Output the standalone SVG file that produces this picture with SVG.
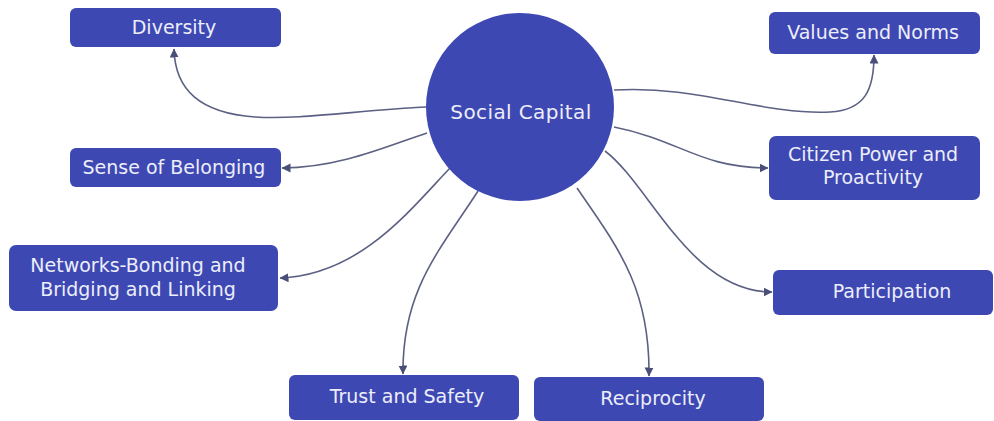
<svg xmlns="http://www.w3.org/2000/svg" width="994" height="421" viewBox="0 0 994 421">
  <defs>
    <style>
      .box { fill: #3e48b3; }
      .hub { fill: #3e48b3; }
      .lbl { font-family: "DejaVu Sans", "Liberation Sans", sans-serif; font-size: 19px; fill: #eceefa; text-anchor: middle; }
      .hub-lbl { font-size: 20px; letter-spacing: 0.4px; }
      .link { fill: none; stroke: #5c6183; stroke-width: 1.6; marker-end: url(#arrow); }
    </style>
    <marker id="arrow" markerUnits="userSpaceOnUse" markerWidth="10" markerHeight="10" refX="8.5" refY="4.5" orient="auto">
      <path d="M0,0 L9,4.5 L0,9 z" fill="#4a4f7a"/>
    </marker>
  </defs>
  <rect width="994" height="421" fill="#ffffff"/>

  <g id="connectors">
    <path class="link" d="M427,107 C360,110 300,120 255,117 C200,113 175,90 174,49"/>
    <path class="link" d="M427,133 C390,145 340,168 282,168"/>
    <path class="link" d="M450,168 C410,210 360,275 280,278"/>
    <path class="link" d="M478,191 C440,250 402,290 403,374"/>
    <path class="link" d="M577,188 C620,250 650,290 649,376"/>
    <path class="link" d="M605,151 C650,185 690,292 772,292"/>
    <path class="link" d="M614,127 C680,140 700,168 768,168"/>
    <path class="link" d="M614,90 C700,85 760,115 830,112 C865,110 874,90 874,55"/>
  </g>

  <g id="social-capital">
    <circle class="hub" cx="520" cy="107" r="94"/>
    <text class="lbl hub-lbl" x="521" y="119">Social Capital</text>
  </g>

  <g id="diversity">
    <rect class="box" x="70" y="8" width="211" height="39" rx="6"/>
    <text class="lbl" x="174" y="34">Diversity</text>
  </g>

  <g id="sense-of-belonging">
    <rect class="box" x="70" y="148" width="211" height="39" rx="6"/>
    <text class="lbl" x="174" y="174">Sense of Belonging</text>
  </g>

  <g id="networks">
    <rect class="box" x="9" y="245" width="269" height="66" rx="7"/>
    <text class="lbl" x="138" y="272">Networks-Bonding and</text>
    <text class="lbl" x="138" y="296">Bridging and Linking</text>
  </g>

  <g id="trust-and-safety">
    <rect class="box" x="289" y="375" width="230" height="45" rx="6"/>
    <text class="lbl" x="407" y="403">Trust and Safety</text>
  </g>

  <g id="reciprocity">
    <rect class="box" x="534" y="377" width="230" height="44" rx="6"/>
    <text class="lbl" x="653" y="405">Reciprocity</text>
  </g>

  <g id="participation">
    <rect class="box" x="773" y="270" width="220" height="45" rx="6"/>
    <text class="lbl" x="892" y="298">Participation</text>
  </g>

  <g id="citizen-power">
    <rect class="box" x="769" y="136" width="211" height="64" rx="7"/>
    <text class="lbl" x="873" y="161">Citizen Power and</text>
    <text class="lbl" x="873" y="184">Proactivity</text>
  </g>

  <g id="values-and-norms">
    <rect class="box" x="769" y="12" width="211" height="42" rx="6"/>
    <text class="lbl" x="873" y="39">Values and Norms</text>
  </g>
</svg>
